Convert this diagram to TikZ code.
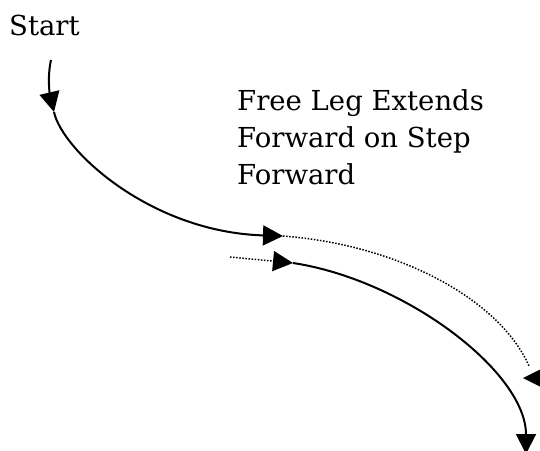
\documentclass[tikz,border=0pt]{standalone}
\usepackage{fontspec}
\setmainfont{DejaVu Serif}
\usetikzlibrary{arrows.meta}
\begin{document}
\begin{tikzpicture}[x=1pt,y=-1pt,
  solidline/.style={line width=2pt},
  dotline/.style={line width=1.5pt, dash pattern=on 1.5pt off 1.6pt},
  tri/.style={-{Triangle[length=20pt,width=20pt]}},
  lbl/.style={inner sep=0pt, font=\fontsize{27.5}{37}\selectfont}]
\useasboundingbox (0,0) rectangle (540,450);
% text
\node[lbl, anchor=base west] (start) at (9,35) {Start};
\node[lbl, anchor=base west] (t1) at (237,110) {Free Leg Extends};
\node[lbl, anchor=base west] (t2) at (237,147) {Forward on Step};
\node[lbl, anchor=base west] (t3) at (237,184) {Forward};
% key points
\coordinate (s0) at (51,60);
\coordinate (s1) at (54,112);
\coordinate (s2) at (283,236);
\coordinate (d1) at (529,366);
\coordinate (dt) at (523,378);
\coordinate (e0) at (230,257);
\coordinate (e1) at (293,263);
\coordinate (e2) at (526,454);
% first curve
\draw[solidline, tri] (s0) .. controls (47,78) and (50,95) .. (s1);
\draw[solidline, tri] (s1) .. controls (62,150) and (150,232) .. (s2);
% dotted return curve
\draw[dotline] (s2) .. controls (400,245) and (500,300) .. (d1);
\fill (dt) -- ++(20,-10) -- ++(0,20) -- cycle;
% second step
\draw[dotline, tri] (e0) -- (e1);
\draw[solidline, tri] (e1) .. controls (405,280) and (526,372) .. (e2);
\end{tikzpicture}
\end{document}
